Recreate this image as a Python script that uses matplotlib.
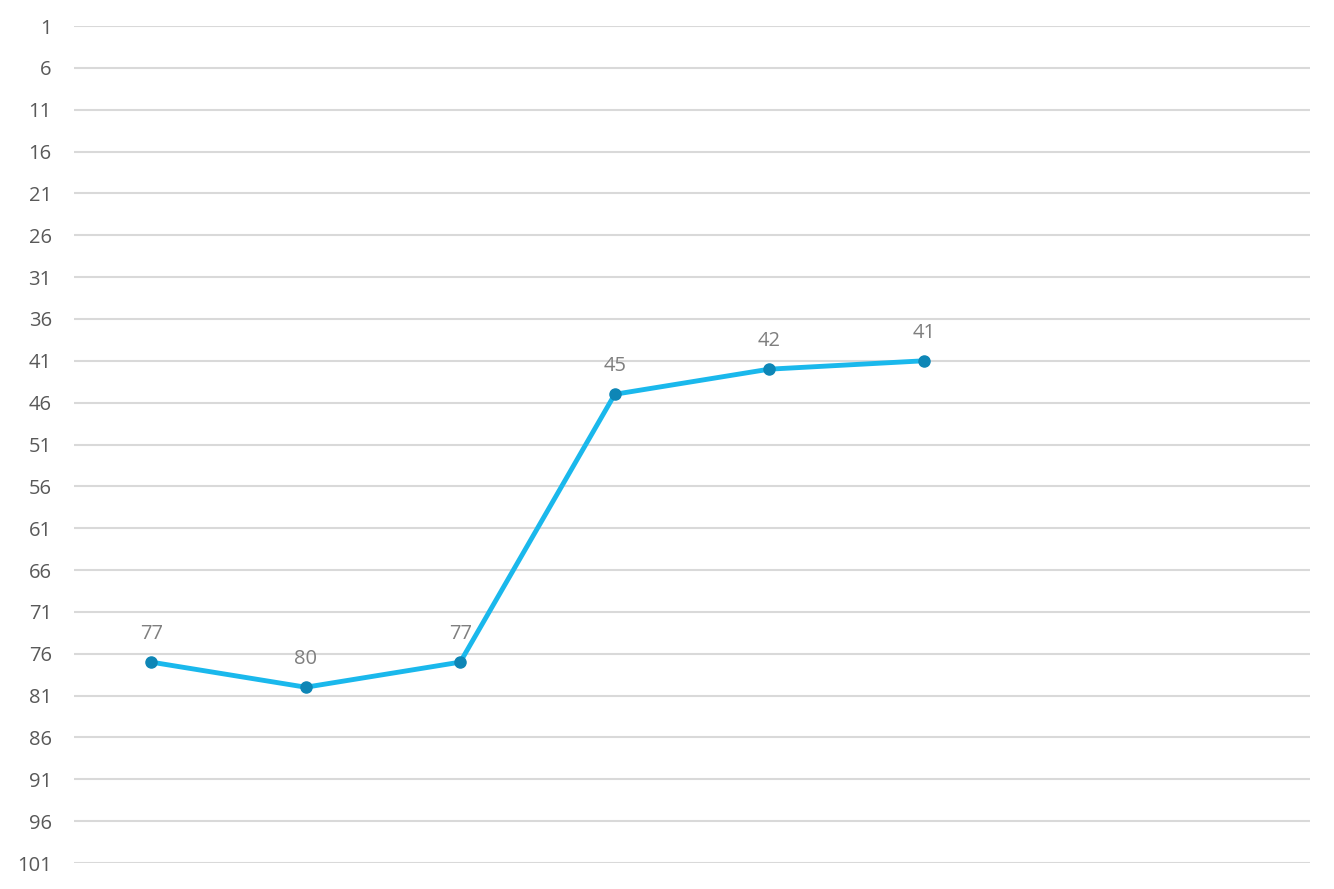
import numpy as np
import matplotlib.pyplot as plt

# datos
categorias = [1, 2, 3, 4, 5, 6]
valores = [77, 80, 77, 45, 42, 41]
n_categorias = 8
yticks = list(range(1, 102, 5))

plt.rcParams['font.family'] = ['Open Sans', 'DejaVu Sans']

fig = plt.figure(figsize=(13.34, 8.89), dpi=100)
ax = fig.add_axes([74/1334, 26/889, (1310-74)/1334, (863-26)/889])

ax.plot(categorias, valores, color='#1AB8EC', lw=3.5, zorder=3)
ax.plot(categorias, valores, 'o', color='#0E86B6', ms=8, zorder=4)

for x, v in zip(categorias, valores):
    ax.annotate(str(v), (x, v), xytext=(0, 13), textcoords='offset points',
                ha='center', va='bottom', fontsize=14.5, color='#7F7F7F')

ax.set_xlim(0.5, n_categorias + 0.5)
ax.set_ylim(101, 1)
ax.set_yticks(yticks)
ax.set_xticks([])
ax.grid(axis='y', color='#D9D9D9', lw=1.5)
ax.set_axisbelow(True)
for s in ax.spines.values():
    s.set_visible(False)
ax.tick_params(axis='y', length=0, pad=16, labelsize=14.5, labelcolor='#595959')

fig.savefig('out.png', dpi=100)
